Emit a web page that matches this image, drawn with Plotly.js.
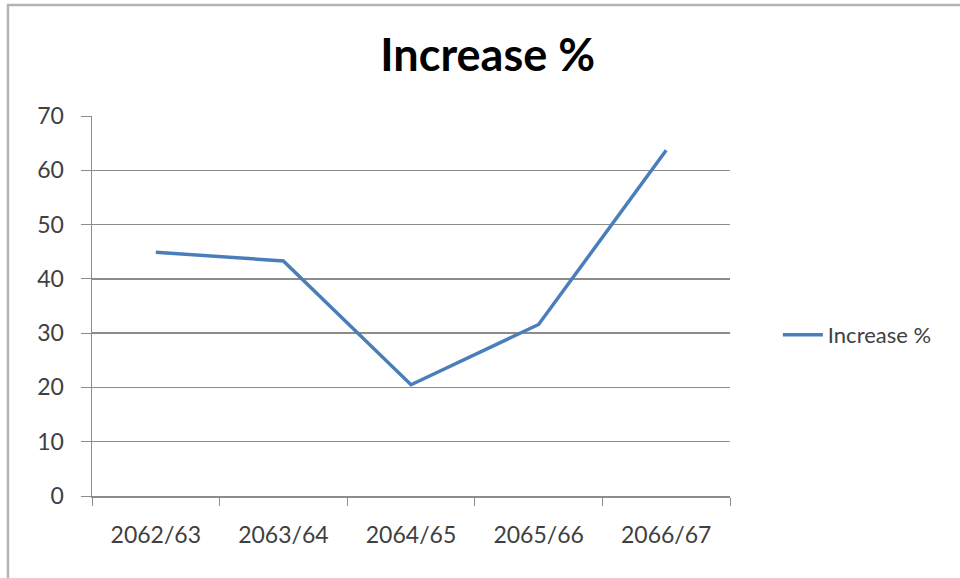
<!DOCTYPE html>
<html>
<head>
<meta charset="utf-8">
<script src="https://cdn.plot.ly/plotly-3.0.1.min.js"></script>
<style>html,body{margin:0;padding:0;background:#fff;}#chart{width:960px;height:578px;}</style>
</head>
<body>
<div id="chart"></div>
<script>
const categories = ["2062/63", "2063/64", "2064/65", "2065/66", "2066/67"];
const increasePct = [44.9, 43.3, 20.5, 31.6, 63.7];
const seriesName = "Increase %";
const yTicks = [0, 10, 20, 30, 40, 50, 60, 70];

const trace = {
  x: categories,
  y: increasePct,
  type: "scatter",
  mode: "lines",
  name: seriesName,
  line: {color: "#4A7EBB", width: 3.5},
  showlegend: true
};

const layout = {
  width: 960,
  height: 578,
  margin: {l: 92, r: 230, t: 116, b: 82},
  paper_bgcolor: "#ffffff",
  plot_bgcolor: "#ffffff",
  font: {family: "Lato, 'Open Sans', sans-serif", color: "#404040", size: 22},
  title: {
    text: "<b>Increase %</b>",
    font: {family: "Lato, 'Open Sans', sans-serif", size: 45, color: "#000"},
    x: 0.508, xanchor: "center",
    y: 0.905, yanchor: "middle"
  },
  xaxis: {
    type: "category",
    range: [-0.5, 4.5],
    showgrid: false,
    showline: true,
    linecolor: "#8c8c8c",
    linewidth: 1.5,
    ticks: "outside",
    tickson: "boundaries",
    ticklen: 8,
    tickcolor: "#8c8c8c",
    ticklabelstandoff: 18,
    tickfont: {size: 23, color: "#404040"},
    zeroline: false
  },
  yaxis: {
    range: [0, 70],
    tickvals: yTicks,
    showgrid: true,
    gridcolor: "#8c8c8c",
    gridwidth: 1.5,
    showline: true,
    linecolor: "#8c8c8c",
    linewidth: 1.5,
    ticks: "outside",
    ticklen: 10,
    tickcolor: "#8c8c8c",
    ticklabelstandoff: 12,
    tickfont: {size: 23, color: "#404040"},
    zeroline: false
  },
  legend: {
    x: 1.075, xanchor: "left",
    y: 0.424, yanchor: "middle",
    font: {size: 22, color: "#404040"},
    bgcolor: "rgba(0,0,0,0)",
    itemwidth: 40
  },
  shapes: [
    {type: "rect", xref: "paper", yref: "paper",
     x0: -0.1317, x1: 1.37, y0: -0.24, y1: 1.292,
     line: {color: "#b4b4b4", width: 2.5}, fillcolor: "rgba(0,0,0,0)"}
  ]
};

Plotly.newPlot("chart", [trace], layout, {displayModeBar: false, staticPlot: true});
</script>
</body>
</html>
